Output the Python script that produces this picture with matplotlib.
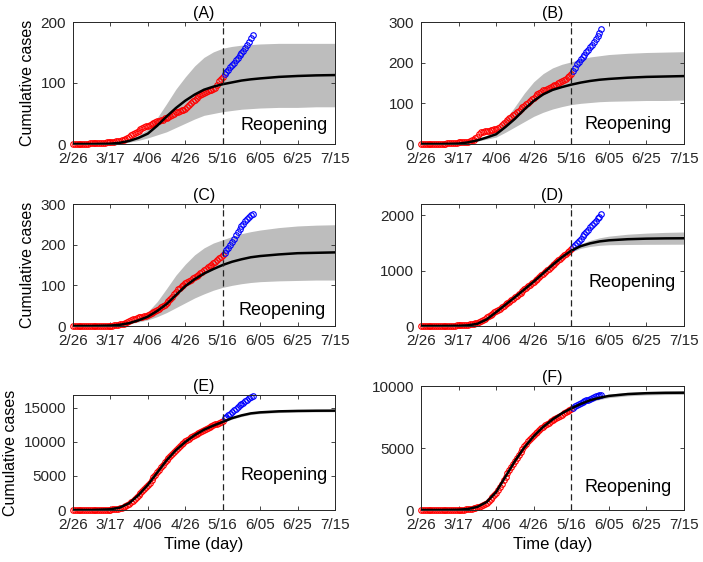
import numpy as np
import matplotlib.pyplot as plt

plt.rcParams['font.family'] = ['Liberation Sans', 'DejaVu Sans']

# Days since 2/26
days_red = list(range(0, 81))
days_blue = list(range(81, 97))
days_model = [0, 10, 20, 25, 30, 35, 40, 45, 50, 55, 60, 65, 70, 75, 80,
              85, 90, 95, 100, 110, 120, 130, 140]
tick_days = [0, 20, 40, 60, 80, 100, 120, 140]
tick_labels = ['2/26', '3/17', '4/06', '4/26', '5/16', '6/05', '6/25', '7/15']
reopen_day = 80

# (A)
red_a = [0, 0, 0, 0, 0, 0, 0, 0, 0, 1,
         1, 1, 1, 1, 1, 2, 2, 2, 3, 3,
         3, 4, 4, 5, 5, 5, 6, 7, 8, 10,
         12, 14, 16, 18, 20, 22, 24, 26, 28, 29,
         30, 31, 33, 35, 36, 37, 38, 39, 40, 42,
         43, 44, 46, 48, 50, 52, 53, 54, 55, 56,
         58, 61, 64, 67, 70, 72, 75, 78, 80, 82,
         84, 85, 87, 88, 89, 90, 91, 96, 103, 106,
         110]
blue_a = [114, 118, 121, 126, 129, 133, 137, 141, 146, 149, 153, 158, 163, 168, 173, 179]
mid_a = [0, 0, 0.5, 2, 5, 10, 17, 30, 45, 59, 71, 81, 89, 94, 98,
         101, 104, 106, 107.5, 110, 111.5, 112.5, 113]
up_a = [0, 0, 1, 3, 7, 14, 25, 43, 66, 90, 110, 128, 142, 151, 157,
        160, 162, 163, 164, 165, 165, 165, 165]
lo_a = [0, 0, 0, 1, 3, 6, 10, 15, 20, 27, 34, 41, 47, 50, 53,
        55, 57, 58, 59, 60, 60, 61, 61]

# (B)
red_b = [0, 0, 0, 0, 0, 0, 0, 0, 0, 0,
         1, 1, 1, 1, 2, 2, 2, 3, 3, 3,
         4, 4, 4, 5, 5, 6, 7, 9, 11, 14,
         18, 24, 29, 30, 31, 32, 33, 34, 35, 36,
         37, 40, 43, 47, 51, 55, 59, 63, 67, 71,
         74, 78, 82, 86, 90, 94, 98, 102, 106, 110,
         114, 118, 122, 126, 129, 132, 134, 136, 138, 140,
         142, 144, 146, 149, 152, 155, 158, 161, 165, 168,
         172]
blue_b = [180, 188, 196, 202, 208, 214, 220, 226, 232, 238, 244, 250, 258, 266, 274, 283]
mid_b = [0, 0, 1, 4, 9, 16, 24, 42, 62, 85, 106, 122, 133, 140, 146,
         151, 155, 158, 160, 163, 165, 166, 167]
up_b = [0, 0, 1, 5, 11, 21, 34, 60, 92, 125, 153, 173, 187, 196, 202,
        209, 214, 217, 220, 223, 225, 226, 227]
lo_b = [0, 0, 0, 3, 7, 12, 17, 29, 42, 55, 68, 78, 86, 92, 97,
        100, 102, 104, 105, 106, 107, 107, 108]

# (C)
red_c = [0, 0, 0, 0, 0, 0, 0, 0, 0, 0,
         0, 0, 0, 0, 0, 0, 0, 1, 1, 1,
         1, 1, 2, 2, 3, 4, 5, 6, 8, 10,
         12, 14, 16, 18, 20, 21, 22, 23, 24, 25,
         27, 29, 31, 34, 37, 40, 43, 46, 49, 52,
         56, 61, 66, 72, 78, 84, 90, 94, 98, 102,
         105, 108, 111, 114, 117, 120, 123, 126, 130, 134,
         138, 141, 144, 147, 150, 154, 158, 162, 166, 170,
         174]
blue_c = [180, 187, 193, 199, 207, 215, 223, 231, 239, 246, 252, 258, 263, 268, 272, 276]
mid_c = [0, 0, 1, 3, 7, 14, 23, 37, 54, 76, 98, 115, 129, 140, 150,
         158, 164, 169, 172, 176, 179, 180, 181]
up_c = [0, 0, 1, 4, 9, 20, 35, 60, 92, 125, 152, 175, 192, 204, 212,
        220, 227, 232, 236, 242, 246, 248, 249]
lo_c = [0, 0, 0, 2, 5, 10, 15, 23, 33, 45, 57, 69, 79, 88, 95,
        100, 104, 107, 109, 111, 112, 113, 113]

# (D)
red_d = [0, 0, 0, 0, 0, 0, 0, 0, 0, 1,
         1, 2, 2, 3, 3, 4, 5, 6, 8, 10,
         12, 14, 16, 18, 20, 24, 28, 34, 40, 48,
         58, 72, 90, 110, 130, 155, 180, 205, 225, 245,
         265, 290, 315, 340, 365, 390, 415, 440, 465, 490,
         515, 540, 570, 600, 630, 660, 690, 720, 745, 770,
         795, 825, 855, 885, 915, 945, 975, 1005, 1035, 1065,
         1095, 1125, 1155, 1185, 1215, 1245, 1275, 1305, 1335, 1360,
         1385]
blue_d = [1425, 1462, 1498, 1541, 1576, 1622, 1659, 1703, 1738, 1782,
          1818, 1861, 1897, 1940, 1972, 2012]
mid_d = [0, 0, 4, 12, 40, 120, 250, 385, 520, 660, 800, 950, 1100, 1240, 1360,
         1440, 1490, 1525, 1545, 1565, 1575, 1580, 1582]
up_d = [0, 0, 6, 16, 48, 132, 265, 402, 540, 682, 824, 976, 1126, 1266, 1386,
        1480, 1545, 1590, 1620, 1655, 1675, 1688, 1695]
lo_d = [0, 0, 2, 8, 32, 108, 235, 368, 500, 638, 776, 924, 1074, 1214, 1334,
        1400, 1435, 1455, 1465, 1470, 1473, 1474, 1475]

# (E)
red_e = [0, 0, 0, 0, 0, 0, 0, 0, 0, 1,
         2, 3, 4, 6, 8, 10, 15, 20, 30, 45,
         60, 90, 120, 160, 210, 270, 350, 450, 600, 780,
         950, 1150, 1380, 1620, 1880, 2150, 2450, 2750, 3050, 3350,
         3680, 4040, 4400, 4780, 5160, 5540, 5920, 6300, 6660, 7000,
         7340, 7660, 7980, 8280, 8580, 8860, 9130, 9390, 9630, 9860,
         10080, 10290, 10490, 10680, 10860, 11030, 11190, 11340, 11490, 11630,
         11770, 11910, 12050, 12190, 12320, 12450, 12580, 12710, 12840, 12970,
         13100]
blue_e = [13450, 13700, 13940, 14180, 14420, 14660, 14900, 15130, 15360, 15580,
          15790, 16000, 16200, 16400, 16580, 16750]
mid_e = [0, 2, 100, 350, 1000, 2200, 3700, 5500, 7300, 8800, 10000, 11000, 11800, 12400, 12950,
         13500, 13900, 14200, 14350, 14500, 14560, 14590, 14600]
up_e = [0, 2, 110, 380, 1060, 2280, 3800, 5620, 7430, 8930, 10130, 11130, 11930, 12530, 13060,
        13640, 14060, 14370, 14530, 14680, 14730, 14750, 14760]
lo_e = [0, 2, 90, 320, 940, 2120, 3600, 5380, 7170, 8670, 9870, 10870, 11670, 12270, 12840,
        13360, 13740, 14030, 14170, 14320, 14390, 14420, 14440]

# (F)
red_f = [0, 0, 0, 0, 0, 0, 0, 0, 0, 0,
         1, 1, 2, 2, 3, 4, 5, 7, 10, 14,
         18, 24, 30, 40, 52, 68, 90, 115, 145, 180,
         220, 280, 350, 430, 510, 600, 730, 880, 1040, 1200,
         1380, 1600, 1850, 2110, 2400, 2690, 2960, 3230, 3480, 3730,
         3970, 4210, 4450, 4690, 4920, 5140, 5340, 5530, 5710, 5880,
         6040, 6190, 6330, 6460, 6590, 6710, 6830, 6940, 7040, 7140,
         7240, 7340, 7430, 7520, 7610, 7700, 7790, 7880, 7970, 8060,
         8150]
blue_f = [8250, 8350, 8440, 8530, 8610, 8690, 8770, 8840, 8910, 8980,
          9040, 9100, 9160, 9210, 9260, 9300]
mid_f = [0, 1, 20, 80, 250, 650, 1450, 2700, 3950, 5050, 5950, 6700, 7300, 7800, 8200,
         8550, 8850, 9050, 9200, 9350, 9420, 9450, 9460]
up_f = [0, 1, 25, 95, 280, 700, 1520, 2780, 4040, 5140, 6040, 6790, 7390, 7890, 8300,
        8680, 8990, 9190, 9340, 9490, 9560, 9590, 9600]
lo_f = [0, 1, 15, 65, 220, 600, 1380, 2620, 3860, 4960, 5860, 6610, 7210, 7710, 8100,
        8420, 8710, 8910, 9060, 9210, 9280, 9310, 9320]

panels = [
    ('(A)', red_a, blue_a, mid_a, up_a, lo_a, [0, 100, 200], 200, (73, 335, 22, 144), (0.64, 0.15)),
    ('(B)', red_b, blue_b, mid_b, up_b, lo_b, [0, 100, 200, 300], 300, (421, 684, 22, 144), (0.62, 0.16)),
    ('(C)', red_c, blue_c, mid_c, up_c, lo_c, [0, 100, 200, 300], 300, (73, 335, 204, 326), (0.63, 0.13)),
    ('(D)', red_d, blue_d, mid_d, up_d, lo_d, [0, 1000, 2000], 2200, (421, 684, 204, 326), (0.635, 0.36)),
    ('(E)', red_e, blue_e, mid_e, up_e, lo_e, [0, 5000, 10000, 15000], 16900, (73, 335, 395, 510), (0.64, 0.30)),
    ('(F)', red_f, blue_f, mid_f, up_f, lo_f, [0, 5000, 10000], 10000, (421, 684, 386, 510), (0.62, 0.185)),
]

W, H = 703, 562
fig = plt.figure(figsize=(W / 100, H / 100), dpi=100)

for i, (title, red, blue, mid, up, lo, yticks, ytop, box, txt) in enumerate(panels):
    x0, x1, y0, y1 = box
    ax = fig.add_axes([x0 / W, 1 - y1 / H, (x1 - x0) / W, (y1 - y0) / H])
    ax.fill_between(days_model, lo, up, color='#bdbdbd', linewidth=0, zorder=1)
    ax.plot(days_red, red, 'o', mfc='none', mec='#ff0000', ms=4, mew=0.8,
            clip_on=False, zorder=2)
    ax.plot(days_blue, blue, 'o', mfc='none', mec='#0000ff', ms=4, mew=0.8,
            clip_on=False, zorder=2)
    ax.plot(days_model, mid, color='black', lw=1.8, zorder=3)
    ax.axvline(reopen_day, color='#222222', lw=0.9, ls=(0, (5, 3)), zorder=4)
    ax.text(txt[0], txt[1], 'Reopening', transform=ax.transAxes, fontsize=13,
            ha='left', va='center', zorder=5)

    ax.set_xlim(0, 140)
    ax.set_ylim(0, ytop)
    ax.set_xticks(tick_days)
    ax.set_xticklabels(tick_labels)
    ax.set_yticks(yticks)
    ax.tick_params(direction='in', top=True, right=True, length=3, width=0.6,
                   labelsize=11, colors='#262626')
    ax.tick_params(axis='x', pad=6)
    ax.tick_params(axis='y', pad=5)
    for s in ax.spines.values():
        s.set_color('#262626')
        s.set_linewidth(0.7)
    ax.set_title(title, fontsize=11.5, pad=3)
    if i % 2 == 0:
        ax.set_ylabel('Cumulative cases', fontsize=11.5)
    if i >= 4:
        ax.set_xlabel('Time (day)', fontsize=12, labelpad=3)

fig.savefig('out.png', dpi=100)
